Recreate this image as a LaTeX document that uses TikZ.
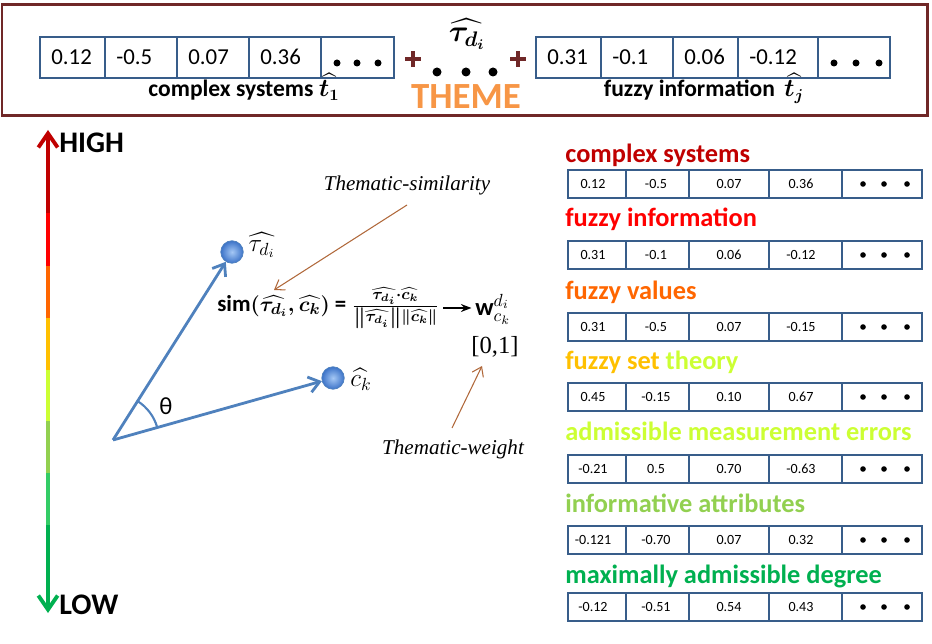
\documentclass[tikz,border=0pt]{standalone}
\usepackage{amsmath}
\usepackage{fontspec}
\setmainfont{Carlito}
\newfontfamily\timesfont{Liberation Serif}
\usetikzlibrary{arrows.meta,calc,positioning}

\definecolor{frameRed}{RGB}{112,40,40}
\definecolor{boxBlue}{RGB}{56,93,138}
\definecolor{vecBlue}{RGB}{79,129,189}
\definecolor{ballLight}{RGB}{165,200,245}
\definecolor{ballDark}{RGB}{60,115,200}
\definecolor{noteBrown}{RGB}{176,104,58}
\definecolor{themeOrange}{RGB}{247,150,70}
\definecolor{lvA}{RGB}{192,0,0}
\definecolor{lvB}{RGB}{255,0,0}
\definecolor{lvC}{RGB}{255,102,0}
\definecolor{lvD}{RGB}{255,192,0}
\definecolor{lvE}{RGB}{204,255,51}
\definecolor{lvF}{RGB}{146,208,80}
\definecolor{lvG}{RGB}{51,204,102}
\definecolor{lvH}{RGB}{0,176,80}

\begin{document}
\begin{tikzpicture}[x=0.02cm, y=-0.02cm,
    cellnum/.style={font=\fontsize{13}{15}\selectfont, anchor=west, inner sep=0pt},
    rownum/.style={font=\fontsize{8}{10}\selectfont, inner sep=0pt},
    veclabel/.style={font=\bfseries\fontsize{13.4}{16}\selectfont\boldmath, anchor=base, inner sep=0pt},
    rowlabel/.style={font=\bfseries\fontsize{15}{18}\selectfont, anchor=base west, inner sep=0pt},
    axislabel/.style={font=\bfseries\fontsize{17}{20}\selectfont, anchor=west, inner sep=0pt},
    ball/.style={circle, shading=radial, inner color=ballLight, outer color=ballDark, draw=vecBlue, line width=0.4pt, minimum size=0.45cm, inner sep=0pt},
    vec/.style={vecBlue, line width=1.6pt, -{Straight Barb[length=6pt, width=9pt]}},
    note/.style={noteBrown, line width=0.6pt, -{Straight Barb[length=5pt, width=7pt]}},
    notetext/.style={font=\timesfont\itshape\fontsize{12}{14}\selectfont, inner sep=0pt},
    boxframe/.style={boxBlue, line width=1.5pt},
    boxcell/.style={boxBlue, line width=0.6pt},
  ]
  \useasboundingbox (0,0) rectangle (932,644);

  % --- 1. Top frame with the two term vectors ---
  \draw[frameRed, line width=1.7pt] (2,5) rectangle (927,116);

  \draw[boxframe] (40,37) rectangle (394,78);
  \foreach \x in {105,177,249,321}
    \draw[boxcell] (\x,37) -- (\x,78);
  \foreach \x/\v [count=\i] in {40/0.12, 105/-0.5, 177/0.07, 249/0.36}
    \node[cellnum] (ta\i) at (\x+11,57) {\v};
  \foreach \x in {337,357,378}
    \fill (\x,63) circle (3.5);

  \draw[boxframe] (536,37) rectangle (890,78);
  \foreach \x in {601,673,738,818}
    \draw[boxcell] (\x,37) -- (\x,78);
  \foreach \x/\v [count=\i] in {536/0.31, 601/-0.1, 673/0.06, 738/-0.12}
    \node[cellnum] (tb\i) at (\x+11,57) {\v};
  \foreach \x in {834,856,879}
    \fill (\x,63) circle (3.5);

  \node[veclabel] (termA) at (244,97) {complex systems $\widehat{t_1}$};
  \node[veclabel] (termB) at (704,97) {fuzzy information\, $\widehat{t_j}$};

  % plus signs and the theme vector
  \foreach \x in {413,518}
    \draw[frameRed, line width=2.8pt] (\x-8,59) -- (\x+8,59) (\x,51) -- (\x,67);
  \foreach \x in {437,466,493}
    \fill (\x,72) circle (4.5);
  \node[font=\fontsize{17}{20}\selectfont\boldmath] (tauTop) at (467,34) {$\widehat{\tau_{d_i}}$};
  \node[font=\bfseries\fontsize{21}{24}\selectfont, text=themeOrange] (theme) at (466,97) {THEME};

  % --- 2. Scale from HIGH to LOW ---
  \foreach \ya/\yb/\col in {213/266/lvB, 266/318/lvC, 318/370/lvD, 370/421/lvE, 421/473/lvF, 473/525/lvG}
    \draw[\col, line width=2.2pt] (48,\ya) -- (48,\yb);
  \draw[lvA, line width=2.2pt, -{Straight Barb[length=8pt, width=11pt]}] (48,213) -- (48,130);
  \draw[lvH, line width=2.2pt, -{Straight Barb[length=8pt, width=11pt]}] (48,525) -- (48,613);
  \node[axislabel] (high) at (59,143) {HIGH};
  \node[axislabel] (low) at (59,605) {LOW};

  % --- 3. Vectors and the angle ---
  \coordinate (O) at (113,440);
  \node[ball] (tau) at (232,252) {};
  \node[ball] (ck) at (333,378) {};
  \draw[vec] (O) -- (tau);
  \draw[vec] (O) -- (ck);
  \draw[vecBlue, line width=1.2pt] ([shift={(-15.7:46)}]O) arc[start angle=-15.7, end angle=-57.7, radius=46];
  \node[font=\fontsize{14}{16}\selectfont] (theta) at (166,406) {θ};
  \node[font=\fontsize{14}{16}\selectfont] (tauLbl) at (262,245) {$\widehat{\tau_{d_i}}$};
  \node[font=\fontsize{14}{16}\selectfont] (ckLbl) at (361,379) {$\widehat{c_k}$};

  % --- 4. Similarity formula ---
  \node[font=\bfseries\fontsize{13}{15}\selectfont\boldmath, anchor=west, inner sep=0pt] (sim) at (217,308)
    {sim$(\widehat{\tau_{d_i}},\widehat{c_k})$ = $\frac{\widehat{\tau_{d_i}}\cdot\widehat{c_k}}{\left\|\widehat{\tau_{d_i}}\right\|\left\|\widehat{c_k}\right\|}$};
  \node[font=\bfseries\fontsize{14}{16}\selectfont, anchor=west, inner sep=0pt] (wgt) at (475,309) {w$^{d_i}_{c_k}$};
  \draw[-{Stealth[length=6pt]}, line width=1pt, shorten <=2pt, shorten >=2pt] (sim.east) -- (sim.east -| wgt.west);
  \node[font=\timesfont\fontsize{14}{16}\selectfont] (range) at (495,347) {[0,1]};

  \node[notetext] (simNote) at (407,185) {Thematic-similarity};
  \coordinate (simTail) at (407,205);
  \coordinate (simTip) at (274,290);
  \draw[note] (simTail) -- (simTip);
  \node[notetext] (wgtNote) at (453,449) {Thematic-weight};
  \coordinate (wgtTail) at (452,428);
  \coordinate (wgtTip) at (482,366);
  \draw[note] (wgtTail) -- (wgtTip);

  % --- 5. Term vectors on the right ---
  \foreach \yc/\yl/\lab/\col/\a/\b/\c/\d [count=\i] in {
      184/163/{complex systems}/lvA/0.12/-0.5/0.07/0.36,
      255/227/{fuzzy information}/lvB/0.31/-0.1/0.06/-0.12,
      327/300/{fuzzy values}/lvC/0.31/-0.5/0.07/-0.15,
      397/370/{fuzzy set {\color{lvE}theory}}/lvD/0.45/-0.15/0.10/0.67,
      469/440/{admissible measurement errors}/lvE/-0.21/0.5/0.70/-0.63,
      540/512/{informative attributes}/lvF/-0.121/-0.70/0.07/0.32,
      607/583/{maximally admissible degree}/lvH/-0.12/-0.51/0.54/0.43}
  {
    \node[rowlabel, text=\col] (lab\i) at (565,\yl) {\lab};
    \draw[boxframe] (568,\yc-14) rectangle (922,\yc+14);
    \foreach \x in {626,689,769,842}
      \draw[boxcell] (\x,\yc-14) -- (\x,\yc+14);
    \foreach \x/\v [count=\j] in {593/\a, 656/\b, 729/\c, 801/\d}
      \node[rownum] (num\i\j) at (\x,\yc) {\v};
    \foreach \x in {863,884,907}
      \fill (\x,\yc) circle (2.8);
  }
\end{tikzpicture}
\end{document}
